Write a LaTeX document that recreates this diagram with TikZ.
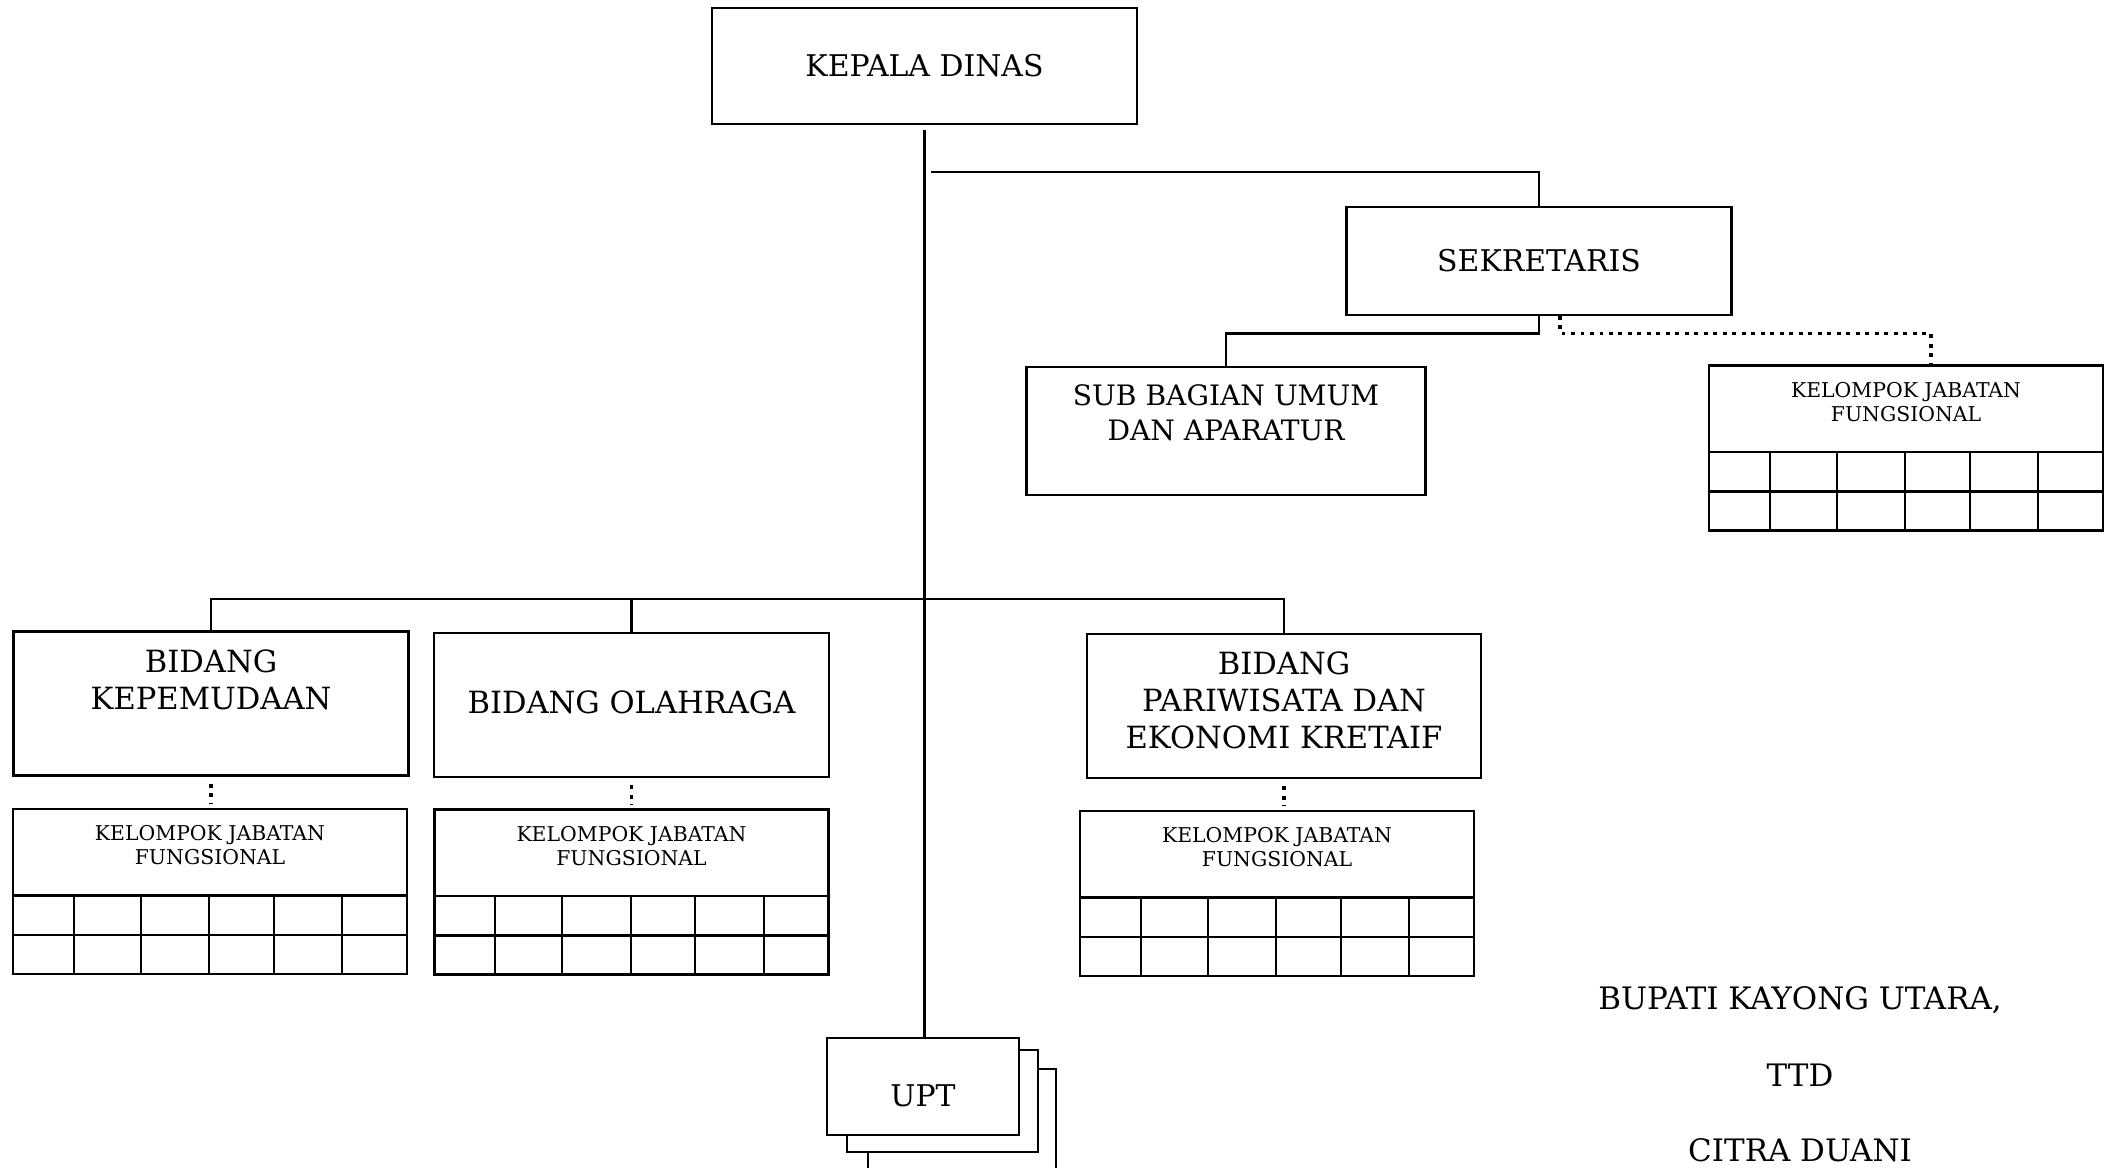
\documentclass[tikz,border=0pt]{standalone}
\usepackage{fontspec}
\setmainfont{DejaVu Serif}
\usetikzlibrary{positioning,calc}

\begin{document}
\begin{tikzpicture}[x=0.01cm,y=-0.01cm,
  box/.style={draw,line width=0.7pt,rectangle,inner sep=0pt,align=center,fill=white},
  big/.style={font=\fontsize{8.7}{10.5}\selectfont},
  mid/.style={font=\fontsize{8.5}{10}\selectfont},
  sub/.style={font=\fontsize{8}{10}\selectfont},
  sig/.style={font=\fontsize{8.8}{10}\selectfont},
  small/.style={font=\fontsize{5.8}{6.8}\selectfont},
  conn/.style={line width=0.6pt},
  fnline/.style={line width=0.9pt,dash pattern=on 1.1pt off 1.6pt},
  kjfbox/.style={box,minimum width=3.94cm,minimum height=1.65cm,
    label={[small,anchor=north,inner sep=0pt,yshift=-4.9pt,align=center]north:KELOMPOK JABATAN\\FUNGSIONAL}}]

  \useasboundingbox (0,0) rectangle (2107,1168);

  % pimpinan dan sekretariat
  \node[box,mid,minimum width=4.25cm,minimum height=1.16cm] (kadis) at (924.5,66) {KEPALA DINAS};
  \node[box,mid,minimum width=3.85cm,minimum height=1.075cm] (sekre) at (1539,261) {SEKRETARIS};
  \node[box,minimum width=3.99cm,minimum height=1.275cm,
        label={[sub,anchor=north,inner sep=0pt,yshift=-5pt,align=center]north:SUB BAGIAN UMUM\\DAN APARATUR}] (subbag) at (1226,431) {};
  \node[kjfbox] (kjf0) at (1906,448) {};

  % bidang
  \node[box,minimum width=3.95cm,minimum height=1.44cm,
        label={[big,anchor=north,inner sep=0pt,yshift=-5.4pt,align=center]north:BIDANG\\KEPEMUDAAN}] (bidA) at (211,703.5) {};
  \node[box,minimum width=3.95cm,minimum height=1.44cm,
        label={[big,anchor=center,yshift=0.8pt]center:BIDANG OLAHRAGA}] (bidB) at (631.5,705) {};
  \node[box,minimum width=3.94cm,minimum height=1.44cm,
        label={[big,anchor=center,inner sep=0pt,yshift=1.6pt,align=center]center:BIDANG\\PARIWISATA DAN\\EKONOMI KRETAIF}] (bidC) at (1284,706) {};

  \node[kjfbox] (kjf1) at (210,891.5) {};
  \node[kjfbox] (kjf2) at (631.5,892) {};
  \node[kjfbox] (kjf3) at (1277,893.5) {};

  % kotak-kotak jabatan fungsional
  \foreach \k in {kjf0,kjf1,kjf2,kjf3}{
    \draw[line width=0.7pt] ($(\k.north west)+(0,88)$) -- ($(\k.north east)+(0,88)$);
    \draw[line width=0.7pt] ($(\k.north west)+(0,127.5)$) -- ($(\k.north east)+(0,127.5)$);
    \foreach \c in {62,129,197.5,262,330.5}
      \draw[line width=0.6pt] ($(\k.north west)+(\c,88)$) -- ($(\k.south west)+(\c,0)$);
  }

  % UPT
  \draw[line width=0.7pt] (868,1168) |- (1056,1069) -- (1056,1168);
  \draw[line width=0.7pt,fill=white] (847,1050) rectangle (1038,1152);
  \node[box,minimum width=1.92cm,minimum height=0.97cm,
        label={[mid,anchor=center,yshift=-2.6pt]center:UPT}] (upt) at (923,1086.5) {};

  % garis komando
  \coordinate (sekbr) at (931,172);
  \draw[conn,shorten <=1.3pt] (kadis.south) -- (kadis.south |- upt.north);
  \draw[conn] (sekbr) -| (sekre.north);
  \draw[conn] (sekre.south) -- ++(0,17.5) -| (subbag.north);
  \draw[conn] (bidA.north) -- ++(0,-31) -| (bidC.north);
  \draw[conn] (bidB.north) -- ++(0,-32.4);

  % garis koordinasi
  \draw[fnline] ($(sekre.south)+(21,0)$) -- ++(0,17.5) -| ($(kjf0.north)+(25,0)$);
  \draw[fnline,shorten <=2pt,shorten >=1pt] (bidA.south) -- (bidA.south |- kjf1.north);
  \draw[fnline,shorten <=2pt,shorten >=1pt] (bidB.south) -- (bidB.south |- kjf2.north);
  \draw[fnline,shorten <=2pt,shorten >=1pt] (bidC.south) -- (bidC.south |- kjf3.north);

  % pengesahan
  \node[sig] (sigA) at (1800,1000) {BUPATI KAYONG UTARA,};
  \node[sig] (sigB) at (1800,1075) {TTD};
  \node[sig] (sigC) at (1800,1150) {CITRA DUANI};
\end{tikzpicture}
\end{document}
